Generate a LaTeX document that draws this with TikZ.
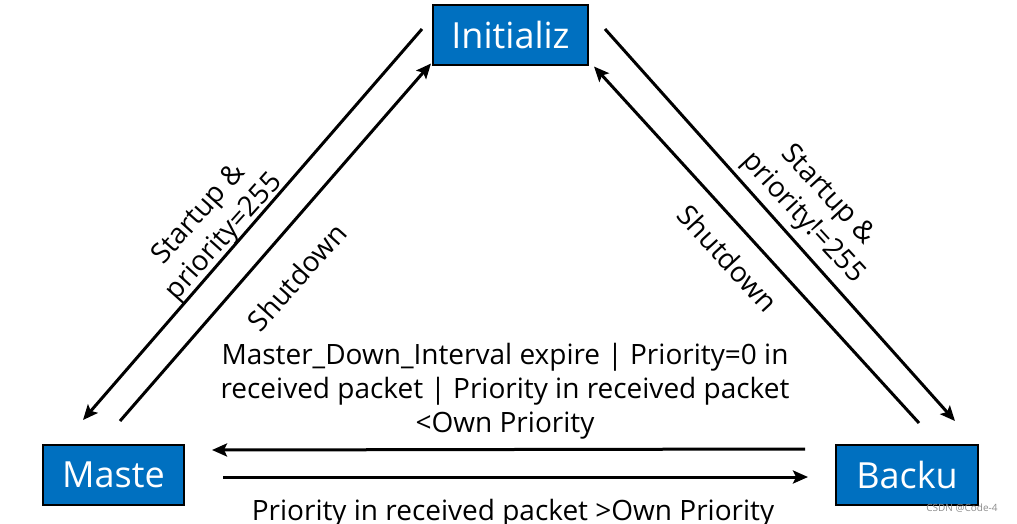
\documentclass[tikz,border=0pt]{standalone}
\usepackage{fontspec}
\setmainfont{Open Sans}
\usetikzlibrary{arrows.meta,calc}
\definecolor{boxblue}{HTML}{0070C0}
\begin{document}
\begin{tikzpicture}[x=1pt,y=1pt,
  state/.style={draw=black,line width=2pt,fill=boxblue,text=white,minimum width=#1,minimum height=60pt,inner sep=0pt,font=\fontsize{36}{40}\selectfont},
  arr/.style={line width=3pt,-{Stealth[length=15pt,width=13pt,inset=3pt]}},
  lbl/.style={font=\fontsize{28}{34}\selectfont,align=center,inner sep=0pt}]
\useasboundingbox (0,0) rectangle (1017,-523);
\node[state=155pt] (init) at (510.5,-34.5) {Initializ};
\node[state=141pt] (master) at (113.5,-475) {Maste};
\node[state=142pt] (backup) at (907,-475) {Backu};
% left pair
\coordinate (l1s) at ($(init.west)+(-10,5.5)$);
\coordinate (l1e) at ($(master.north)+(-30.5,24)$);
\coordinate (l2s) at ($(master.north)+(6.5,23)$);
\coordinate (l2e) at ($(init.south west)+(-1,2)$);
\draw[arr] (l1s) -- (l1e);
\draw[arr] (l2s) -- (l2e);
% right pair
\coordinate (r1s) at ($(init.east)+(16,5.5)$);
\coordinate (r1e) at ($(backup.north)+(48,23)$);
\coordinate (r2s) at ($(backup.north)+(12,21)$);
\coordinate (r2e) at ($(init.south east)+(5,-1)$);
\draw[arr] (r1s) -- (r1e);
\draw[arr] (r2s) -- (r2e);
% horizontal pair
\coordinate (h1s) at ($(backup.west)+(-30,26)$);
\coordinate (h1e) at ($(master.east)+(27,25)$);
\coordinate (h2s) at ($(master.east)+(38,-2)$);
\coordinate (h2e) at ($(backup.west)+(-27,-2)$);
\draw[arr] (h1s) -- (h1e);
\draw[arr] (h2s) -- (h2e);
% labels
\node[lbl,rotate=48.2] (lstart) at (212,-226) {Startup \&\\priority=255};
\node[lbl,rotate=48.2] (lshut) at (297,-277) {Shutdown};
\node[lbl,rotate=-47.3] (rstart) at (815,-207) {Startup \&\\priority!=255};
\node[lbl,rotate=-47.3] (rshut) at (728,-258) {Shutdown};
\node[lbl] (mtext) at (505,-391) {Master\_Down\_Interval expire | Priority=0 in\\received packet | Priority in received packet\\<Own Priority};
\node[lbl,anchor=base] (btext) at (513,-520) {Priority in received packet >Own Priority};
\node[font=\fontsize{10}{12}\selectfont,text=black!45,inner sep=0pt] (wm) at (962,-508) {CSDN @Code-4};
\end{tikzpicture}
\end{document}
